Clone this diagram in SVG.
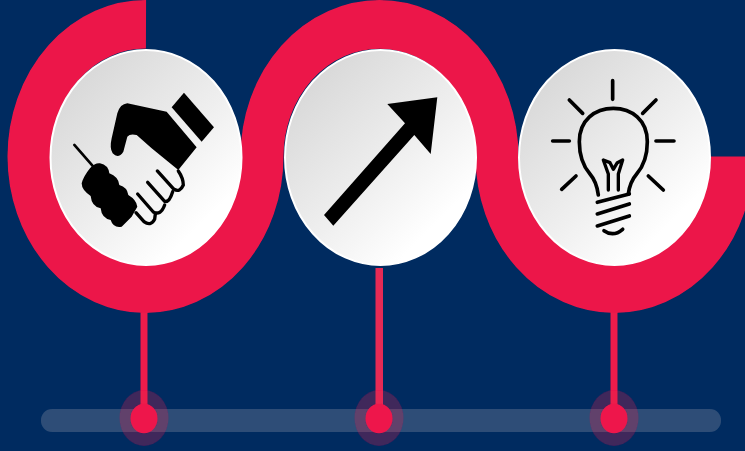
<svg xmlns="http://www.w3.org/2000/svg" width="745" height="451" viewBox="0 0 745 451">
<defs>
<linearGradient id="disc" x1="0.15" y1="0.1" x2="0.85" y2="0.9"><stop offset="0" stop-color="#d8d8d8"/><stop offset="0.55" stop-color="#efefef"/><stop offset="0.9" stop-color="#ffffff"/></linearGradient>
<filter id="soft" filterUnits="userSpaceOnUse" x="0" y="0" width="745" height="451"><feGaussianBlur stdDeviation="0.7"/></filter>
</defs>
<style>
.disc{fill:url(#disc);stroke:#fff;stroke-width:2}
.stem{fill:#ec1a4b}
.dot{fill:#ee174b}
.halo{fill:#ee174b;opacity:.27}
.ink{fill:#000}
.line{fill:none;stroke:#000;stroke-width:11;stroke-linecap:round;stroke-linejoin:round}
</style>
<rect width="745" height="451" fill="#002b60"/>
<rect x="41" y="409" width="680" height="23" rx="11" fill="#2e4e77" filter="url(#soft)"/>
<g id="connectors" filter="url(#soft)">
<rect class="stem" x="140.500" y="305" width="7" height="110"/>
<rect class="stem" x="375.500" y="268" width="7.500" height="147" style="fill:#e62c55"/>
<rect class="stem" x="610.500" y="305" width="7" height="110"/>
</g>
<g id="band" filter="url(#soft)">
<path transform="translate(0,156.500) scale(1,1.13)" d="M146 -117 A116.500 117 0 1 0 262 0 A117.500 117 0 0 1 497 0 A117.500 117 0 0 0 732 0" fill="none" stroke="#ec1649" stroke-width="43"/>
</g>
<g id="marker-1" filter="url(#soft)"><ellipse class="halo" cx="144" cy="418" rx="24.500" ry="28"/><ellipse class="dot" cx="144" cy="418.500" rx="13.500" ry="14.700"/></g>
<g id="marker-2" filter="url(#soft)"><ellipse class="halo" cx="379" cy="418" rx="24.500" ry="28"/><ellipse class="dot" cx="379" cy="418.500" rx="13.500" ry="14.700"/></g>
<g id="marker-3" filter="url(#soft)"><ellipse class="halo" cx="614" cy="418" rx="24.500" ry="28"/><ellipse class="dot" cx="614" cy="418.500" rx="13.500" ry="14.700"/></g>
<g id="node-handshake" filter="url(#soft)">
<ellipse class="disc" cx="146" cy="157.500" rx="95.500" ry="107.500"/>
<g transform="translate(40,70) scale(.3333)">
<path class="ink" d="M432 68 L522 172 L485 215 L395 112Z"/>
<path class="ink" d="M262 100 L380 125 L470 232 L415 300 L335 235 L290 195 Q270 190 262 200 L250 245 Q235 268 218 250 Q208 235 215 205 L232 130 Q240 102 262 100Z"/>
<path class="line" style="stroke-width:10" d="M352 303 L402 358 Q420 368 430 345 Q430 325 415 303"/>
<path class="line" style="stroke-width:10" d="M323 337 L374 394 Q388 398 398 365"/>
<path class="line" style="stroke-width:10" d="M293 372 L340 426 Q362 438 374 405"/>
<path class="line" style="stroke-width:10" d="M288 428 L312 455 Q332 470 344 448 L346 432"/>
<path class="line" style="stroke-width:8" d="M103 225 L160 290"/>
<path class="ink" d="M180 280 Q205 285 208 310 Q235 320 238 345 Q262 352 265 375 Q290 390 292 410 L275 440 L245 470 Q220 475 212 450 Q185 445 182 415 Q155 410 152 378 Q125 360 125 340 Q130 320 150 295 Q165 278 180 280Z"/>
</g>
</g>
<g id="node-arrow" filter="url(#soft)">
<ellipse class="disc" cx="380.500" cy="157.500" rx="95.500" ry="107.500"/>
<path class="ink" d="M437.300 97.300 L387.300 104 L405 123.300 L324 215 L333.300 225.700 L414.300 135 L430.700 154Z"/>
</g>
<g id="node-bulb" filter="url(#soft)">
<ellipse class="disc" cx="614.500" cy="157.500" rx="95.500" ry="107.500"/>
<g transform="translate(530,70) scale(.3333)">
<path class="line" d="M248 32V88M118 90L158 130M378 90L338 130M68 213H118M378 213H432M95 358L138 318M355 318L400 360"/>
<path class="line" d="M205 375 Q200 335 180 312 Q148 275 148 215 C148 150 195 115 250 115 C305 115 352 150 352 215 Q352 275 320 312 Q300 335 295 372"/>
<path class="line" style="stroke-width:10" d="M235 360 V312 L220 270 L240 278 L250 298 L262 278 L278 270 L265 312 V360"/>
<path class="line" d="M202 397L298 372M202 432L298 402M202 468L298 438M222 482 Q250 502 278 478"/>
</g>
</g>
</svg>
